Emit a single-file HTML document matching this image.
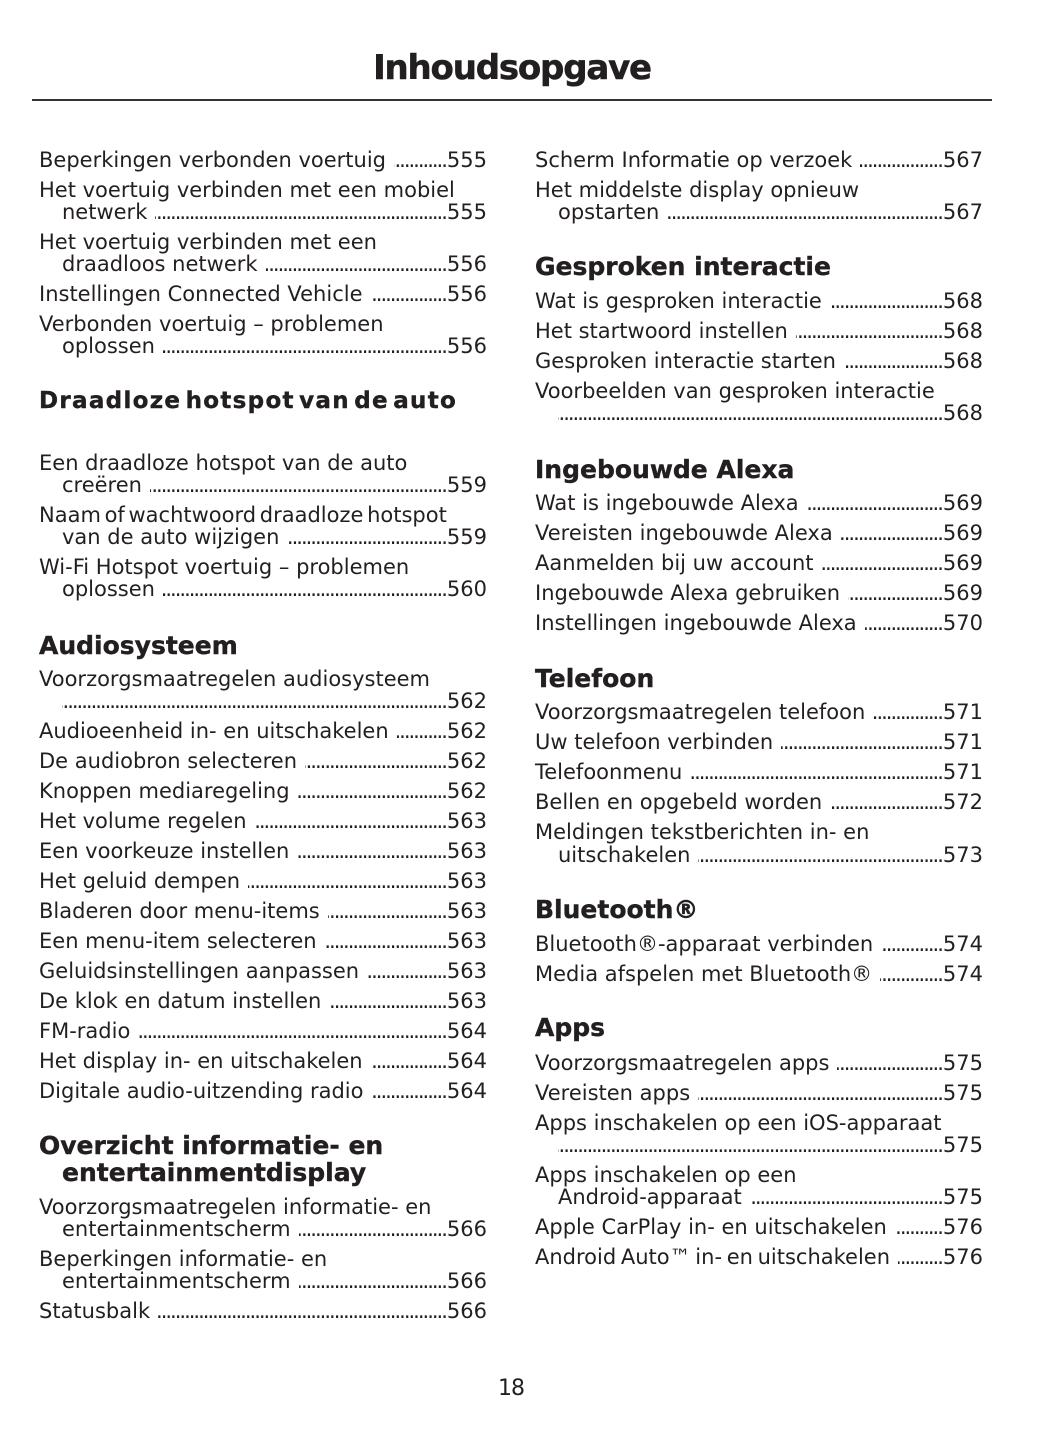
<!DOCTYPE html>
<html>
<head>
<meta charset="utf-8">
<style>
html,body{margin:0;padding:0;background:#fff;}
body{width:1055px;height:1448px;position:relative;overflow:hidden;font-family:"DejaVu Sans","Liberation Sans",sans-serif;color:#231f20;}
.title{position:absolute;left:312px;width:400px;top:48px;text-align:center;font-weight:bold;font-size:34px;line-height:40px;letter-spacing:-1.2px;-webkit-text-stroke:0.5px #231f20;white-space:nowrap;}
.rule{position:absolute;left:32px;width:960px;top:98.5px;height:2px;background:#333;}
.p,.l{position:absolute;font-size:21px;line-height:22px;height:22px;white-space:nowrap;}
.l{display:flex;}
.l .t{flex:none;white-space:nowrap;}
.l .d{flex:1 1 0;min-width:0;overflow:hidden;white-space:nowrap;direction:rtl;letter-spacing:-2px;margin-left:8px;margin-right:1px;}
.l .n{flex:none;}
.h{position:absolute;font-weight:bold;font-size:25px;line-height:30px;white-space:nowrap;-webkit-text-stroke:0.4px #231f20;}
.pg{position:absolute;left:461px;width:100px;text-align:center;top:1377px;font-size:22px;line-height:24px;letter-spacing:-1px;}
</style>
</head>
<body>
<div class="title">Inhoudsopgave</div>
<div class="rule"></div>

<!-- LEFT COLUMN -->
<div class="l" style="top:149px;left:39px;width:448px"><span class="t">Beperkingen verbonden voertuig</span><span class="d">........................................................................................................................</span><span class="n">555</span></div>
<div class="p" style="top:179px;left:39px">Het voertuig verbinden met een mobiel</div>
<div class="l" style="top:201px;left:62px;width:425px"><span class="t">netwerk</span><span class="d">........................................................................................................................</span><span class="n">555</span></div>
<div class="p" style="top:231px;left:39px">Het voertuig verbinden met een</div>
<div class="l" style="top:253px;left:62px;width:425px"><span class="t">draadloos netwerk</span><span class="d">........................................................................................................................</span><span class="n">556</span></div>
<div class="l" style="top:283px;left:39px;width:448px"><span class="t">Instellingen Connected Vehicle</span><span class="d">........................................................................................................................</span><span class="n">556</span></div>
<div class="p" style="top:313px;left:39px">Verbonden voertuig – problemen</div>
<div class="l" style="top:335px;left:62px;width:425px"><span class="t">oplossen</span><span class="d">........................................................................................................................</span><span class="n">556</span></div>

<div class="h" style="top:387px;left:39px;font-size:23px;line-height:28px;letter-spacing:1.3px;word-spacing:-5px;">Draadloze hotspot van de auto</div>

<div class="p" style="top:452px;left:39px">Een draadloze hotspot van de auto</div>
<div class="l" style="top:474px;left:62px;width:425px"><span class="t">creëren</span><span class="d">........................................................................................................................</span><span class="n">559</span></div>
<div class="p" style="top:504px;left:39px;word-spacing:-3px">Naam of wachtwoord draadloze hotspot</div>
<div class="l" style="top:526px;left:62px;width:425px"><span class="t">van de auto wijzigen</span><span class="d">........................................................................................................................</span><span class="n">559</span></div>
<div class="p" style="top:556px;left:39px">Wi-Fi Hotspot voertuig – problemen</div>
<div class="l" style="top:578px;left:62px;width:425px"><span class="t">oplossen</span><span class="d">........................................................................................................................</span><span class="n">560</span></div>

<div class="h" style="top:631px;left:39px">Audiosysteem</div>

<div class="p" style="top:668px;left:39px">Voorzorgsmaatregelen audiosysteem</div>
<div class="l" style="top:690px;left:62px;width:425px"><span class="t"></span><span class="d" style="margin-left:0">........................................................................................................................</span><span class="n">562</span></div>
<div class="l" style="top:720px;left:39px;width:448px"><span class="t">Audioeenheid in- en uitschakelen</span><span class="d">........................................................................................................................</span><span class="n">562</span></div>
<div class="l" style="top:750px;left:39px;width:448px"><span class="t">De audiobron selecteren</span><span class="d">........................................................................................................................</span><span class="n">562</span></div>
<div class="l" style="top:780px;left:39px;width:448px"><span class="t">Knoppen mediaregeling</span><span class="d">........................................................................................................................</span><span class="n">562</span></div>
<div class="l" style="top:810px;left:39px;width:448px"><span class="t">Het volume regelen</span><span class="d">........................................................................................................................</span><span class="n">563</span></div>
<div class="l" style="top:840px;left:39px;width:448px"><span class="t">Een voorkeuze instellen</span><span class="d">........................................................................................................................</span><span class="n">563</span></div>
<div class="l" style="top:870px;left:39px;width:448px"><span class="t">Het geluid dempen</span><span class="d">........................................................................................................................</span><span class="n">563</span></div>
<div class="l" style="top:900px;left:39px;width:448px"><span class="t">Bladeren door menu-items</span><span class="d">........................................................................................................................</span><span class="n">563</span></div>
<div class="l" style="top:930px;left:39px;width:448px"><span class="t">Een menu-item selecteren</span><span class="d">........................................................................................................................</span><span class="n">563</span></div>
<div class="l" style="top:960px;left:39px;width:448px"><span class="t">Geluidsinstellingen aanpassen</span><span class="d">........................................................................................................................</span><span class="n">563</span></div>
<div class="l" style="top:990px;left:39px;width:448px"><span class="t">De klok en datum instellen</span><span class="d">........................................................................................................................</span><span class="n">563</span></div>
<div class="l" style="top:1020px;left:39px;width:448px"><span class="t">FM-radio</span><span class="d">........................................................................................................................</span><span class="n">564</span></div>
<div class="l" style="top:1050px;left:39px;width:448px"><span class="t">Het display in- en uitschakelen</span><span class="d">........................................................................................................................</span><span class="n">564</span></div>
<div class="l" style="top:1080px;left:39px;width:448px"><span class="t">Digitale audio-uitzending radio</span><span class="d">........................................................................................................................</span><span class="n">564</span></div>

<div class="h" style="top:1131px;left:39px">Overzicht informatie- en</div>
<div class="h" style="top:1158px;left:62px">entertainmentdisplay</div>

<div class="p" style="top:1196px;left:39px">Voorzorgsmaatregelen informatie- en</div>
<div class="l" style="top:1218px;left:62px;width:425px"><span class="t">entertainmentscherm</span><span class="d">........................................................................................................................</span><span class="n">566</span></div>
<div class="p" style="top:1248px;left:39px">Beperkingen informatie- en</div>
<div class="l" style="top:1270px;left:62px;width:425px"><span class="t">entertainmentscherm</span><span class="d">........................................................................................................................</span><span class="n">566</span></div>
<div class="l" style="top:1300px;left:39px;width:448px"><span class="t">Statusbalk</span><span class="d">........................................................................................................................</span><span class="n">566</span></div>

<!-- RIGHT COLUMN -->
<div class="l" style="top:149px;left:535px;width:448px"><span class="t">Scherm Informatie op verzoek</span><span class="d">........................................................................................................................</span><span class="n">567</span></div>
<div class="p" style="top:179px;left:535px">Het middelste display opnieuw</div>
<div class="l" style="top:201px;left:558px;width:425px"><span class="t">opstarten</span><span class="d">........................................................................................................................</span><span class="n">567</span></div>

<div class="h" style="top:252px;left:535px">Gesproken interactie</div>

<div class="l" style="top:290px;left:535px;width:448px"><span class="t">Wat is gesproken interactie</span><span class="d">........................................................................................................................</span><span class="n">568</span></div>
<div class="l" style="top:320px;left:535px;width:448px"><span class="t">Het startwoord instellen</span><span class="d">........................................................................................................................</span><span class="n">568</span></div>
<div class="l" style="top:350px;left:535px;width:448px"><span class="t">Gesproken interactie starten</span><span class="d">........................................................................................................................</span><span class="n">568</span></div>
<div class="p" style="top:380px;left:535px">Voorbeelden van gesproken interactie</div>
<div class="l" style="top:402px;left:558px;width:425px"><span class="t"></span><span class="d" style="margin-left:0">........................................................................................................................</span><span class="n">568</span></div>

<div class="h" style="top:455px;left:535px">Ingebouwde Alexa</div>

<div class="l" style="top:492px;left:535px;width:448px"><span class="t">Wat is ingebouwde Alexa</span><span class="d">........................................................................................................................</span><span class="n">569</span></div>
<div class="l" style="top:522px;left:535px;width:448px"><span class="t">Vereisten ingebouwde Alexa</span><span class="d">........................................................................................................................</span><span class="n">569</span></div>
<div class="l" style="top:552px;left:535px;width:448px"><span class="t">Aanmelden bij uw account</span><span class="d">........................................................................................................................</span><span class="n">569</span></div>
<div class="l" style="top:582px;left:535px;width:448px"><span class="t">Ingebouwde Alexa gebruiken</span><span class="d">........................................................................................................................</span><span class="n">569</span></div>
<div class="l" style="top:612px;left:535px;width:448px"><span class="t">Instellingen ingebouwde Alexa</span><span class="d">........................................................................................................................</span><span class="n">570</span></div>

<div class="h" style="top:664px;left:535px">Telefoon</div>

<div class="l" style="top:701px;left:535px;width:448px"><span class="t">Voorzorgsmaatregelen telefoon</span><span class="d">........................................................................................................................</span><span class="n">571</span></div>
<div class="l" style="top:731px;left:535px;width:448px"><span class="t">Uw telefoon verbinden</span><span class="d">........................................................................................................................</span><span class="n">571</span></div>
<div class="l" style="top:761px;left:535px;width:448px"><span class="t">Telefoonmenu</span><span class="d">........................................................................................................................</span><span class="n">571</span></div>
<div class="l" style="top:791px;left:535px;width:448px"><span class="t">Bellen en opgebeld worden</span><span class="d">........................................................................................................................</span><span class="n">572</span></div>
<div class="p" style="top:821px;left:535px">Meldingen tekstberichten in- en</div>
<div class="l" style="top:844px;left:558px;width:425px"><span class="t">uitschakelen</span><span class="d">........................................................................................................................</span><span class="n">573</span></div>

<div class="h" style="top:895px;left:535px">Bluetooth®</div>

<div class="l" style="top:933px;left:535px;width:448px"><span class="t">Bluetooth®-apparaat verbinden</span><span class="d">........................................................................................................................</span><span class="n">574</span></div>
<div class="l" style="top:963px;left:535px;width:448px"><span class="t">Media afspelen met Bluetooth®</span><span class="d">........................................................................................................................</span><span class="n">574</span></div>

<div class="h" style="top:1013px;left:535px">Apps</div>

<div class="l" style="top:1052px;left:535px;width:448px"><span class="t">Voorzorgsmaatregelen apps</span><span class="d">........................................................................................................................</span><span class="n">575</span></div>
<div class="l" style="top:1082px;left:535px;width:448px"><span class="t">Vereisten apps</span><span class="d">........................................................................................................................</span><span class="n">575</span></div>
<div class="p" style="top:1112px;left:535px">Apps inschakelen op een iOS-apparaat</div>
<div class="l" style="top:1134px;left:558px;width:425px"><span class="t"></span><span class="d" style="margin-left:0">........................................................................................................................</span><span class="n">575</span></div>
<div class="p" style="top:1164px;left:535px">Apps inschakelen op een</div>
<div class="l" style="top:1186px;left:558px;width:425px"><span class="t">Android-apparaat</span><span class="d">........................................................................................................................</span><span class="n">575</span></div>
<div class="l" style="top:1216px;left:535px;width:448px"><span class="t">Apple CarPlay in- en uitschakelen</span><span class="d">........................................................................................................................</span><span class="n">576</span></div>
<div class="l" style="top:1246px;left:535px;width:448px"><span class="t" style="word-spacing:-2px">Android Auto™ in- en uitschakelen</span><span class="d">........................................................................................................................</span><span class="n">576</span></div>

<div class="pg">18</div>
</body>
</html>
